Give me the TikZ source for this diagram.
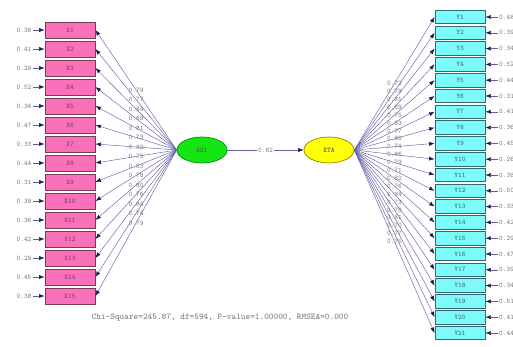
\documentclass[tikz,border=0pt]{standalone}
\usepackage{tikz}
\usetikzlibrary{shapes.geometric,arrows.meta}
\definecolor{boxpink}{RGB}{250,112,186}
\definecolor{pinkedge}{RGB}{120,60,90}
\definecolor{boxcyan}{RGB}{125,250,250}
\definecolor{cyanedge}{RGB}{50,105,115}
\definecolor{latgreen}{RGB}{20,230,20}
\definecolor{latyellow}{RGB}{255,255,10}
\definecolor{pathline}{RGB}{95,95,165}
\definecolor{tipnavy}{RGB}{25,25,80}
\definecolor{labgray}{RGB}{120,120,120}

\begin{document}
\begin{tikzpicture}[x=0.02cm,y=-0.02cm,
    every node/.style={font=\ttfamily\fontsize{4}{4}\selectfont,text=labgray,inner sep=0.5pt},
    obsleft/.style={draw=pinkedge,fill=boxpink,line width=0.5pt,minimum width=1cm,minimum height=0.32cm,text=pinkedge},
    obsright/.style={draw=cyanedge,fill=boxcyan,line width=0.5pt,minimum width=1cm,minimum height=0.27cm,text=cyanedge},
    latent/.style={ellipse,draw,minimum width=1cm,minimum height=0.52cm,text=black!70},
    pathto/.style={draw=pathline,line width=0.25pt,-{Latex[length=1.1mm,width=0.8mm,color=tipnavy]}}]
  \useasboundingbox (0,0) rectangle (513,347);

  % latent variables
  \node[latent,draw=green!55!black,fill=latgreen] at (202,150) (ksi) {KSI};
  \node[latent,draw=olive,fill=latyellow] at (329,150) (eta) {ETA};
  \draw[pathto] (ksi) -- (eta) node[midway,fill=white] {0.62};

  % left indicators
  \foreach \i/\l/\e in {1/0.79/0.38,2/0.77/0.41,3/0.84/0.29,4/0.69/0.52,5/0.81/0.34,
      6/0.73/0.47,7/0.82/0.33,8/0.75/0.44,9/0.83/0.31,10/0.78/0.39,
      11/0.80/0.36,12/0.76/0.42,13/0.84/0.29,14/0.74/0.45,15/0.79/0.38} {
    \node[obsleft] at (70,{30+19*(\i-1)}) (x\i) {X\i};
    \node at (24,{30+19*(\i-1)}) (ex\i) {\e};
    \draw[pathto] (ex\i) -- (x\i);
    \draw[pathto] (ksi.west) -- (x\i.east) node[pos=0.5] {\l};
  }

  % right indicators
  \foreach \j/\l/\e in {1/0.72/0.48,2/0.78/0.39,3/0.81/0.34,4/0.69/0.52,5/0.75/0.44,
      6/0.83/0.31,7/0.77/0.41,8/0.80/0.36,9/0.74/0.45,10/0.86/0.26,
      11/0.79/0.38,12/0.71/0.50,13/0.82/0.33,14/0.76/0.42,15/0.84/0.29,
      16/0.73/0.47,17/0.78/0.39,18/0.81/0.34,19/0.70/0.51,20/0.77/0.41,21/0.75/0.44} {
    \node[obsright] at (460,{17+15.8*(\j-1)}) (y\j) {Y\j};
    \node[anchor=west] at (498,{17+15.8*(\j-1)}) (ey\j) {\e};
    \draw[pathto] (ey\j) -- (y\j);
    \draw[pathto] (eta.east) -- (y\j.west) node[pos=0.5] {\l};
  }

  \node[font=\ttfamily\fontsize{5}{5}\selectfont] at (220,318) (fit)
    {Chi-Square=245.87, df=594, P-value=1.00000, RMSEA=0.000};
\end{tikzpicture}
\end{document}
